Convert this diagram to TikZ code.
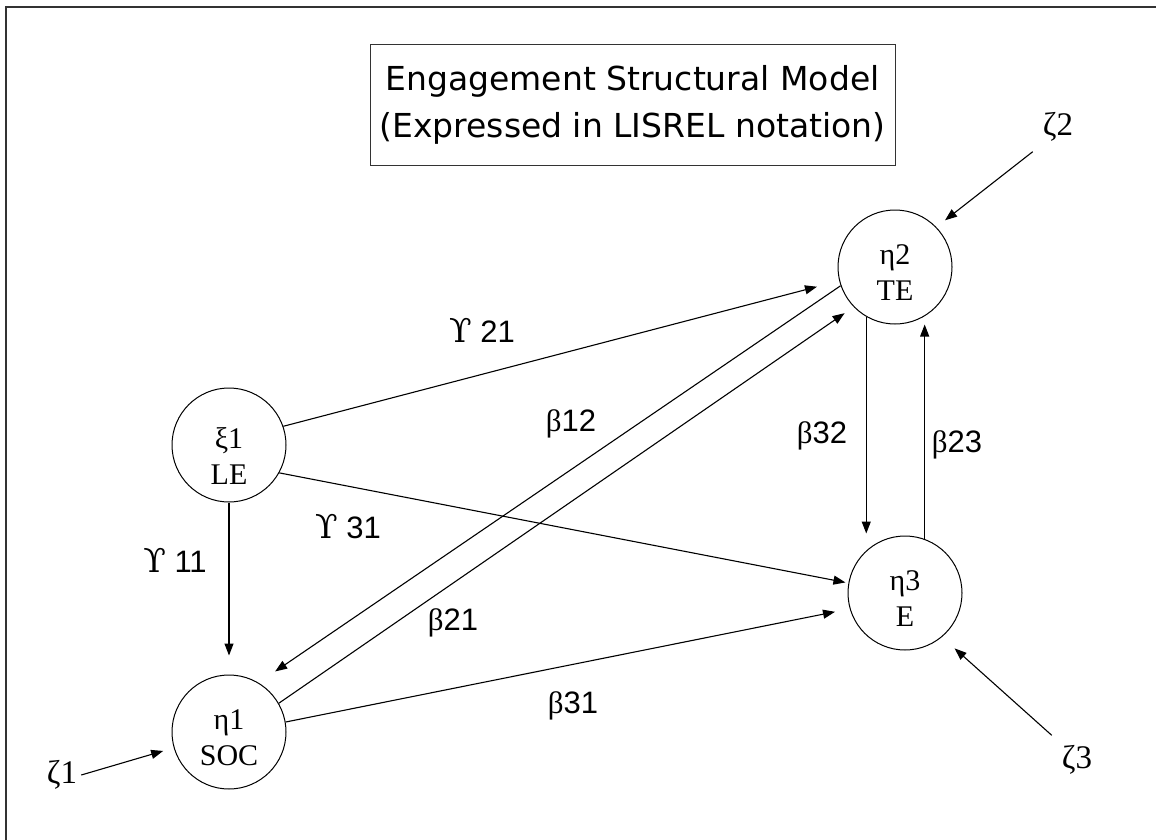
\documentclass[tikz,border=0pt]{standalone}
\usepackage{fontspec}
\usetikzlibrary{arrows.meta}
\newfontfamily\ttlfont{DejaVu Sans}
\newfontfamily\lblsans{Liberation Sans}
\newfontfamily\lblserif{Liberation Serif}
\newfontfamily\upsfont{DejaVu Serif}
\tikzset{
  frame/.style={draw=black!80,line width=1.2pt},
  titlebox/.style={draw=black!80,line width=0.9pt,align=center,inner sep=0pt,
    minimum width=525pt,minimum height=121pt,font=\ttlfont\fontsize{33}{47}\selectfont},
  latent/.style={circle,draw,line width=1pt,minimum size=114pt,inner sep=0pt,align=center,
    text height=66pt,text depth=0pt,
    font=\lblserif\fontsize{30}{36}\selectfont},
  zeta/.style={inner sep=4pt,font=\lblserif\fontsize{33}{36}\selectfont},
  lbl/.style={inner sep=1pt,font=\lblsans\fontsize{31}{34}\selectfont},
  arr/.style={line width=1.1pt,-{Triangle[length=12pt,width=9pt]}},
}
\newcommand{\grb}{{\lblserif β}}
\newcommand{\gup}{{\upsfont\fontsize{33}{34}\selectfont ϒ}}
\begin{document}
\begin{tikzpicture}[x=1pt,y=-1pt]
\useasboundingbox (0,0) rectangle (1156,840);
\draw[frame] (1156,7) -- (6,7) -- (6,840);

\node[titlebox] (title) at (632.5,104.5) {Engagement Structural Model\\(Expressed in LISREL notation)};

\node[latent,text height=78pt] (le)  at (229,445) {ξ1\\LE};
\node[latent] (soc) at (229,732) {η1\\SOC};
\node[latent] (te)  at (895,267) {η2\\TE};
\node[latent] (e)   at (905,593) {η3\\E};

\node[zeta] (z1) at (62,775) {ζ1};
\node[zeta,inner sep=10pt] (z2) at (1058,127) {ζ2};
\node[zeta,inner sep=10pt] (z3) at (1077,760) {ζ3};

\draw[arr,shorten >=11pt] (z1.east) -- (soc.196);
\draw[arr,shorten >=11pt] (z2.south west) -- (te.44);
\draw[arr,shorten >=17pt] (z3.north west) -- (e.310);

\draw[arr,shorten >=19pt] (le.south) -- (soc.north);
\draw[arr,shorten >=23pt] (le.19) -- (te.194);
\draw[arr,shorten >=3pt] (le.331) -- (e.170);
\draw[arr,shorten >=11pt] (soc.30) -- (te.224);
\draw[arr,shorten >=20pt] (te.199) -- (soc.59);
\draw[arr,shorten >=15pt] (soc.10) -- (e.196);
\draw[arr,shorten >=2pt] (te.240) -- (te.240 |- e.north);
\draw[arr] (e.70) -- (e.70 |- te.south);

\node[lbl] (l21) at (482,330) {\gup\ 21};
\node[lbl] (l11) at (175,560) {\gup\ 11};
\node[lbl] (l31) at (348,526) {\gup\ 31};
\node[lbl] (b12) at (571,424) {\grb12};
\node[lbl] (b21) at (453,623) {\grb21};
\node[lbl] (b31) at (573,706) {\grb31};
\node[lbl] (b32) at (822,436) {\grb32};
\node[lbl] (b23) at (957,445) {\grb23};
\end{tikzpicture}
\end{document}
